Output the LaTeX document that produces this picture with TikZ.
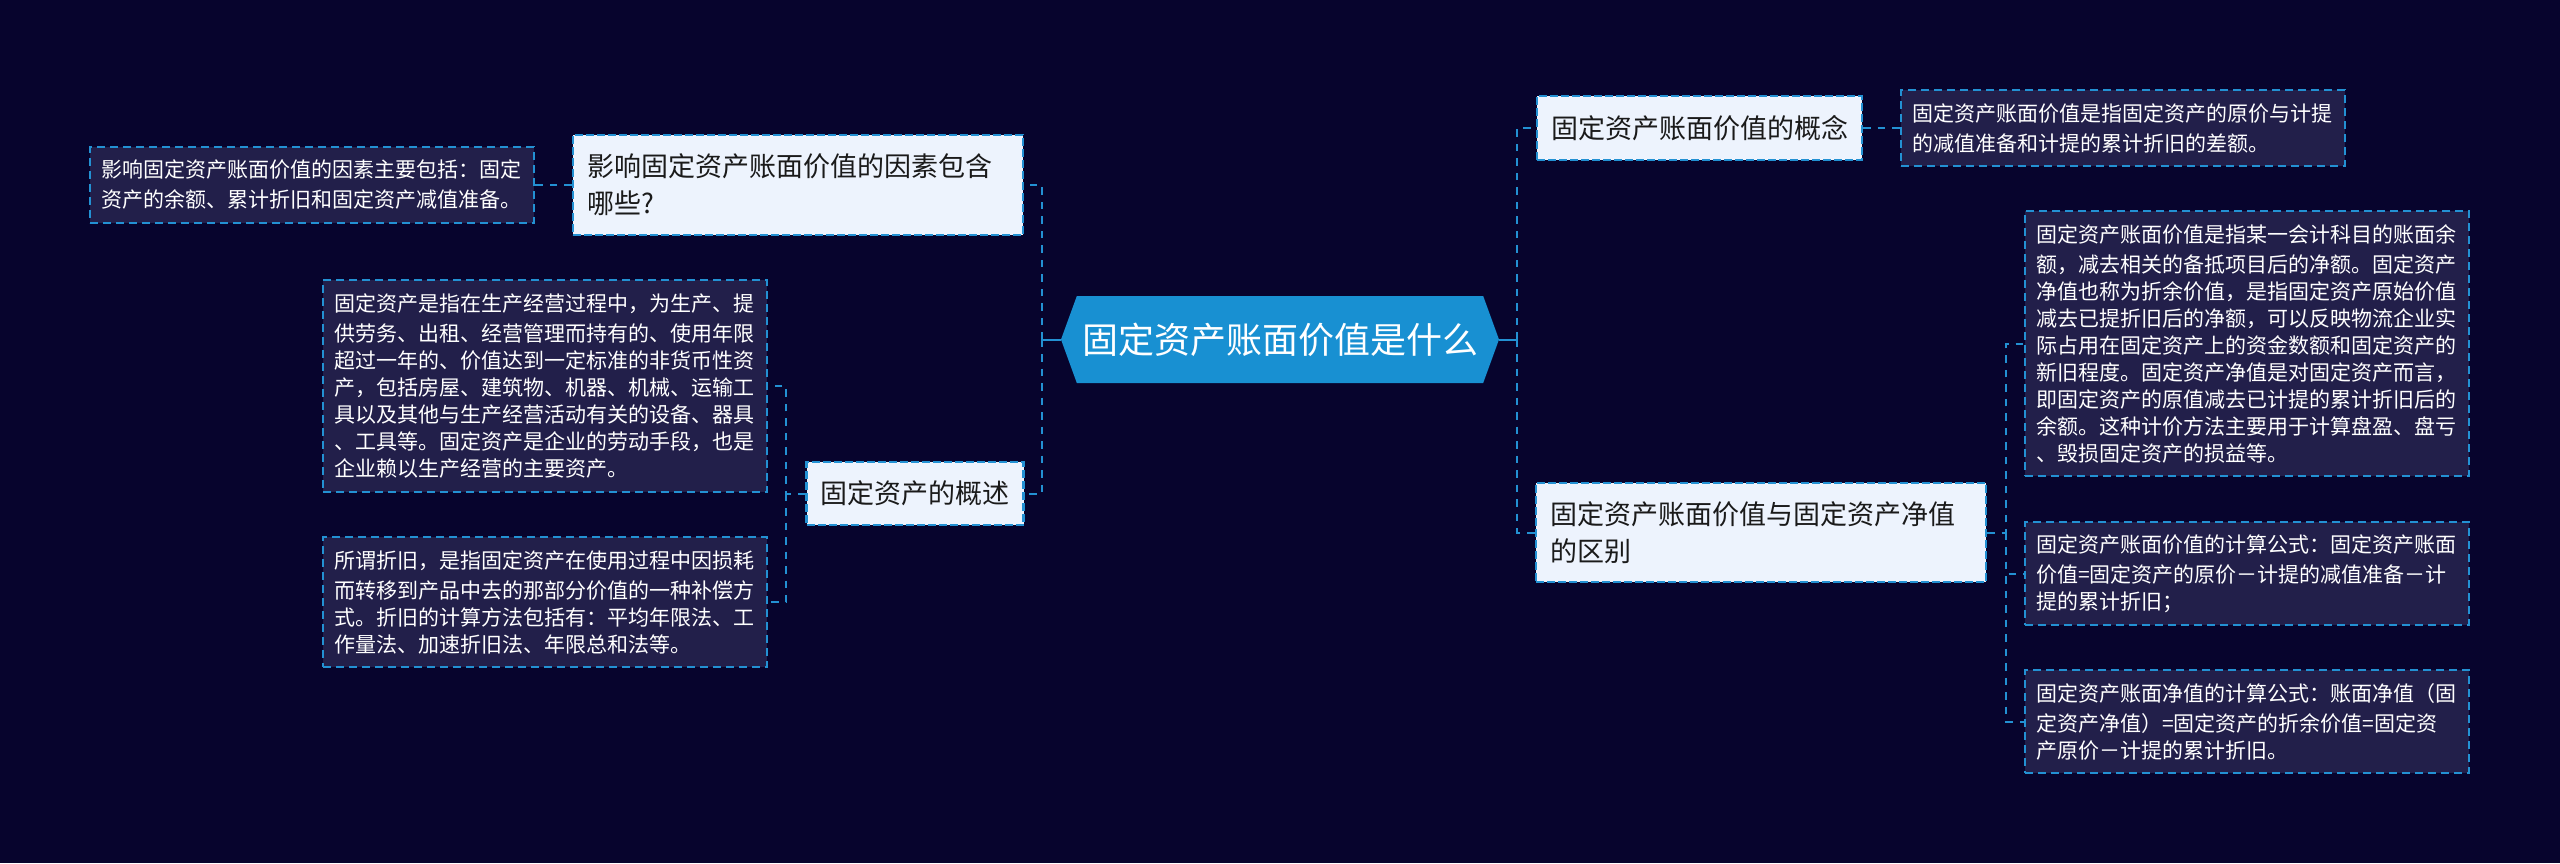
\documentclass[tikz,border=0pt]{standalone}
\usepackage{fontspec}
\usepackage{xcolor}
\usepackage{tikz}
\usetikzlibrary{shapes.symbols}
\setmainfont{Noto Sans CJK SC}
\definecolor{bgdark}{HTML}{07042D}
\definecolor{linkblue}{HTML}{2391D3}
\definecolor{rootblue}{HTML}{1890D2}
\definecolor{midfill}{HTML}{EDF3FD}
\definecolor{leaffill}{HTML}{221F4A}
\definecolor{midtext}{HTML}{1A1A1A}
\tikzset{
  link/.style={draw=linkblue, line width=1pt, dash pattern=on 3.75pt off 3.5pt},
  stem/.style={draw=linkblue, line width=1pt},
  rootbox/.style={signal, signal to=west and east, signal pointer angle=140, fill=rootblue,
    text=white, font=\fontsize{18}{22}\selectfont, minimum width=219pt, minimum height=43.5pt, inner sep=0pt},
  midbox/.style={rectangle, fill=midfill, draw=linkblue, line width=1.2pt, dash pattern=on 4pt off 1.5pt,
    text=midtext, font=\fontsize{13.5}{18.5}\selectfont, align=left, inner xsep=7pt, inner ysep=0pt},
  leafbox/.style={rectangle, fill=leaffill, draw=linkblue, line width=1pt, dash pattern=on 4pt off 2.5pt,
    text=white, font=\fontsize{10.5}{13.5}\selectfont, align=left, inner xsep=5.5pt, inner ysep=0pt, text width=211pt,
    execute at begin node={\vspace*{1.5pt}}},
}
\begin{document}
\begin{tikzpicture}[x=0.5pt,y=-0.5pt]
  \fill[bgdark] (0,0) rectangle (2560,863);
  \useasboundingbox (0,0) rectangle (2560,863);
  % centre
  \node[rootbox] (root) at (1280,339.5) {固定资产账面价值是什么};
  % left side
  \node[midbox,text width=211pt,minimum height=50pt] (factor) at (798,185) {影响固定资产账面价值的因素包含\\哪些?};
  \node[leafbox,minimum height=38pt] (factorleaf) at (312,185) {影响固定资产账面价值的因素主要包括：固定\\资产的余额、累计折旧和固定资产减值准备。};
  \node[midbox,text width=94.5pt,minimum height=31.5pt] (survey) at (915,493.5) {固定资产的概述};
  \node[leafbox,minimum height=106pt] (surveyleafa) at (545,386) {固定资产是指在生产经营过程中，为生产、提\\供劳务、出租、经营管理而持有的、使用年限\\超过一年的、价值达到一定标准的非货币性资\\产，包括房屋、建筑物、机器、机械、运输工\\具以及其他与生产经营活动有关的设备、器具\\、工具等。固定资产是企业的劳动手段，也是\\企业赖以生产经营的主要资产。};
  \node[leafbox,minimum height=65pt] (surveyleafb) at (545,602) {所谓折旧，是指固定资产在使用过程中因损耗\\而转移到产品中去的那部分价值的一种补偿方\\式。折旧的计算方法包括有：平均年限法、工\\作量法、加速折旧法、年限总和法等。};
  % right side
  \node[midbox,text width=148.5pt,minimum height=32pt] (concept) at (1699.5,128) {固定资产账面价值的概念};
  \node[leafbox,minimum height=38pt] (conceptleaf) at (2123,128) {固定资产账面价值是指固定资产的原价与计提\\的减值准备和计提的累计折旧的差额。};
  \node[midbox,text width=211pt,minimum height=49.5pt] (differ) at (1761,532.5) {固定资产账面价值与固定资产净值\\的区别};
  \node[leafbox,minimum height=132.5pt] (differleafa) at (2247,343.5) {固定资产账面价值是指某一会计科目的账面余\\额，减去相关的备抵项目后的净额。固定资产\\净值也称为折余价值，是指固定资产原始价值\\减去已提折旧后的净额，可以反映物流企业实\\际占用在固定资产上的资金数额和固定资产的\\新旧程度。固定资产净值是对固定资产而言，\\即固定资产的原值减去已计提的累计折旧后的\\余额。这种计价方法主要用于计算盘盈、盘亏\\、毁损固定资产的损益等。};
  \node[leafbox,minimum height=51.5pt] (differleafb) at (2247,573.5) {固定资产账面价值的计算公式：固定资产账面\\价值=固定资产的原价－计提的减值准备－计\\提的累计折旧；};
  \node[leafbox,minimum height=51.5pt] (differleafc) at (2247,721.5) {固定资产账面净值的计算公式：账面净值（固\\定资产净值）=固定资产的折余价值=固定资\\产原价－计提的累计折旧。};
  % elbows
  \coordinate (trunkl) at (1042,339.5);
  \coordinate (trunkr) at (1517,339.5);
  \coordinate (forkl) at (786,493.5);
  \coordinate (forkr) at (2006,532.5);
  \draw[stem] (root.west) -- (trunkl);
  \draw[stem] (root.east) -- (trunkr);
  \draw[link] (trunkl) |- (factor.east);
  \draw[link] (trunkl) |- (survey.east);
  \draw[link] (trunkr) |- (concept.west);
  \draw[link] (trunkr) |- (differ.west);
  \draw[link] (factor.west) -- (factorleaf.east);
  \draw[link] (concept.east) -- (conceptleaf.west);
  \draw[link] (survey.west) -- (forkl) |- (surveyleafa.east);
  \draw[link] (forkl) |- (surveyleafb.east);
  \draw[link] (differ.east) -- (forkr) |- (differleafa.west);
  \draw[link] (forkr) |- (differleafb.west);
  \draw[link] (forkr) |- (differleafc.west);
\end{tikzpicture}
\end{document}
